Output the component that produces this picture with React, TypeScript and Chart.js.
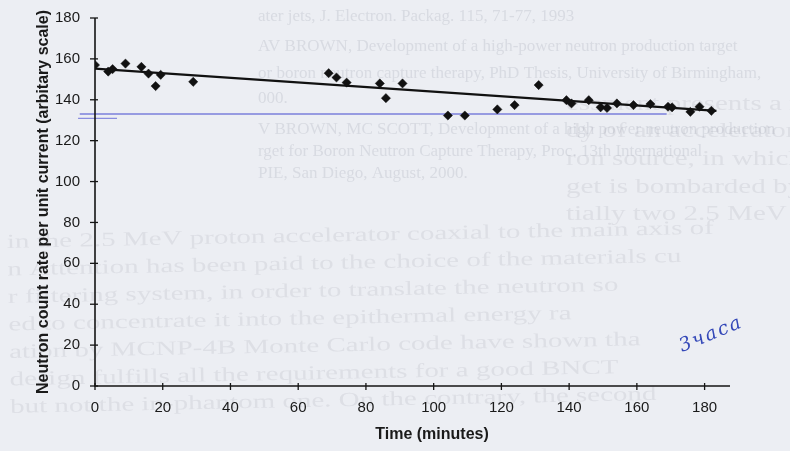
import React, { useEffect, useRef } from "react";
import { Chart, registerables } from "chart.js";

Chart.register(...registerables);

// Measured count rate over the run (minutes, arbitrary units)
const timeMinutes = [
  0, 3.9, 5.2, 9, 13.7, 15.8, 17.9, 19.4, 29, 69, 71.3, 74.3, 84.1, 85.9, 90.8,
  104.2, 109.2, 118.8, 123.9, 131, 139.2, 140.7, 145.8, 149.3, 151.2, 154.1,
  159, 164, 169.2, 170.4, 175.8, 178.5, 182,
];
const countRate = [
  157, 153.8, 155, 157.7, 156.1, 152.8, 146.7, 152.2, 148.8, 153, 150.9, 148.4,
  148, 140.8, 148, 132.3, 132.3, 135.3, 137.4, 147.2, 139.8, 138.2, 139.8,
  136.3, 136, 138.2, 137.4, 137.9, 136.6, 136.3, 134.1, 136.6, 134.6,
];

// Linear trend drawn through the data
const trendTime = [0, 183.5];
const trendRate = [155.2, 134.6];

// Ink marks in blue pen on the printed figure
const penLineTime = [-4.5, 168.8];
const penLineRate = [133.1, 133.1];
const penDashTime = [-5, 6.5];
const penDashRate = [130.9, 130.9];

const xTicks = [0, 20, 40, 60, 80, 100, 120, 140, 160, 180];
const yTicks = [0, 20, 40, 60, 80, 100, 120, 140, 160, 180];
const xTitle = "Time (minutes)";
const yTitle = "Neutron count rate per unit current (arbitary scale)";
const handNote = "3часа";

// Text of the page showing faintly through the paper
const refLines = [
  "ater jets, J. Electron. Packag. 115, 71-77, 1993",
  "AV BROWN, Development of a high-power neutron production target",
  "or boron neutron capture therapy, PhD Thesis, University of Birmingham,",
  "000.",
  "V BROWN, MC SCOTT, Development of a high power neutron production",
  "rget for Boron Neutron Capture Therapy, Proc. 13th International",
  "PIE, San Diego, August, 2000.",
];
const bodyRightLines = [
  "essment presents a neutronic",
  "dy of an accelerator-based",
  "ron source, in which the",
  "get is bombarded by the",
  "tially two 2.5 MeV proton acce",
];
const bodyLines = [
  "in the 2.5 MeV proton accelerator coaxial to the main axis of",
  "n Attention has been paid to the choice of the materials cu",
  "r filtering system, in order to translate the neutron so",
  "ed to concentrate it into the epithermal energy ra",
  "ation by MCNP-4B Monte Carlo code have shown tha",
  "design fulfills all the requirements for a good BNCT",
  "but not the in-phantom one. On the contrary, the second",
];

const pagePlugin = {
  id: "page",
  beforeDraw(chart: any) {
    const { ctx, width, height } = chart;
    ctx.save();
    ctx.fillStyle = "#eceef3";
    ctx.fillRect(0, 0, width, height);

    const drawStretched = (text: string, x: number, y: number, sx: number) => {
      ctx.save();
      ctx.translate(x, y);
      ctx.scale(sx, 1);
      ctx.fillText(text, 0, 0);
      ctx.restore();
    };

    ctx.filter = "blur(0.7px)";
    ctx.textBaseline = "alphabetic";
    ctx.fillStyle = "rgba(120,126,142,0.17)";
    ctx.font = '17px "Liberation Serif"';
    const refY = [21, 51, 78, 103, 134, 156, 178];
    refLines.forEach((t, i) => drawStretched(t, 258, refY[i], 1.0));

    ctx.fillStyle = "rgba(120,126,142,0.13)";
    ctx.font = '20px "Liberation Serif"';
    const rightY = [110, 137, 165, 193, 220];
    bodyRightLines.forEach((t, i) => drawStretched(t, 566, rightY[i], 1.45));

    ctx.save();
    ctx.rotate(-0.02);
    bodyLines.forEach((t, i) => drawStretched(t, 2, 248 + i * 27.5, 1.45));
    ctx.restore();
    ctx.restore();
  },
};

const axesPlugin = {
  id: "axes",
  afterDraw(chart: any) {
    const { ctx, chartArea } = chart;
    const xs = chart.scales.x;
    const ys = chart.scales.y;
    const x0 = xs.getPixelForValue(0);
    const y0 = ys.getPixelForValue(0);
    ctx.save();
    ctx.strokeStyle = "#151515";
    ctx.fillStyle = "#1a1a1a";
    ctx.lineWidth = 1.6;
    ctx.beginPath();
    ctx.moveTo(x0, ys.getPixelForValue(yTicks[yTicks.length - 1]));
    ctx.lineTo(x0, y0);
    ctx.lineTo(chartArea.right, y0);
    ctx.stroke();

    ctx.lineWidth = 1.3;
    ctx.font = '15px "Liberation Sans"';
    ctx.textAlign = "right";
    ctx.textBaseline = "middle";
    for (const t of yTicks) {
      const py = ys.getPixelForValue(t);
      ctx.beginPath();
      ctx.moveTo(x0 - 5, py);
      ctx.lineTo(x0 + 3, py);
      ctx.stroke();
      ctx.fillText(String(t), x0 - 15, py);
    }
    ctx.textAlign = "center";
    for (const t of xTicks) {
      const px = xs.getPixelForValue(t);
      ctx.beginPath();
      ctx.moveTo(px, y0 - 3);
      ctx.lineTo(px, y0 + 4);
      ctx.stroke();
      ctx.fillText(String(t), px, y0 + 22);
    }

    ctx.font = 'bold 16px "Liberation Sans"';
    ctx.fillText(xTitle, 432, 435);
    ctx.save();
    ctx.translate(44, (chartArea.top + chartArea.bottom) / 2);
    ctx.rotate(-Math.PI / 2);
    ctx.fillText(yTitle, 0, 0);
    ctx.restore();

    // handwritten note
    ctx.save();
    ctx.translate(682, 352);
    ctx.rotate(-0.39);
    ctx.fillStyle = "#3448b8";
    ctx.font = 'italic 19px "DejaVu Serif"';
    ctx.textAlign = "left";
    ctx.textBaseline = "alphabetic";
    (ctx as any).letterSpacing = "2px";
    ctx.fillText(handNote, 0, 0);
    ctx.restore();
    ctx.restore();
  },
};

export default function App() {
  const canvasRef = useRef<HTMLCanvasElement | null>(null);

  useEffect(() => {
    if (!canvasRef.current) return;
    const toPoints = (xs: number[], ys: number[]) =>
      xs.map((x, i) => ({ x, y: ys[i] }));

    const chart = new Chart(canvasRef.current, {
      type: "scatter",
      data: {
        datasets: [
          {
            type: "scatter",
            label: "Count rate",
            data: toPoints(timeMinutes, countRate),
            pointStyle: "rectRot",
            pointRadius: 4.6,
            backgroundColor: "#111",
            borderColor: "#111",
            borderWidth: 0.5,
            order: 1,
          },
          {
            type: "line",
            label: "Trend",
            data: toPoints(trendTime, trendRate),
            borderColor: "#111",
            borderWidth: 2.2,
            pointRadius: 0,
            fill: false,
            order: 2,
          },
          {
            type: "line",
            label: "pen",
            data: toPoints(penLineTime, penLineRate),
            borderColor: "rgba(96,100,214,0.8)",
            borderWidth: 1.5,
            pointRadius: 0,
            fill: false,
            clip: false,
            order: 3,
          },
          {
            type: "line",
            label: "pen2",
            data: toPoints(penDashTime, penDashRate),
            borderColor: "rgba(96,100,214,0.7)",
            borderWidth: 1.2,
            pointRadius: 0,
            fill: false,
            clip: false,
            order: 3,
          },
        ],
      },
      options: {
        animation: false,
        responsive: false,
        devicePixelRatio: 1,
        layout: { padding: { left: 95, right: 60, top: 18, bottom: 65 } },
        scales: {
          x: { type: "linear", min: 0, max: 187.5, display: false },
          y: { type: "linear", min: 0, max: 180, display: false },
        },
        plugins: {
          legend: { display: false },
          tooltip: { enabled: false },
        },
      },
      plugins: [pagePlugin, axesPlugin],
    });
    return () => chart.destroy();
  }, []);

  return (
    <div style={{ position: "fixed", left: 0, top: 0, width: 790, height: 451 }}>
      <canvas ref={canvasRef} width={790} height={451} />
    </div>
  );
}
